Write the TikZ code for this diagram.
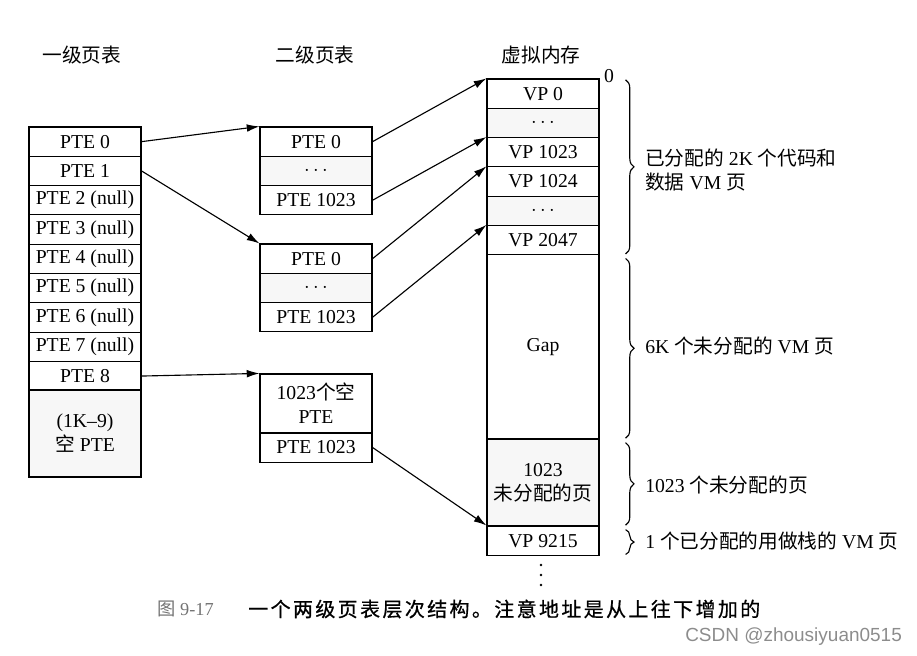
\documentclass[tikz,border=0pt]{standalone}
\usepackage{fontspec}
\setmainfont{Liberation Serif}
\newfontfamily\cjkfont{Noto Sans CJK SC}
\newfontfamily\capfont[LetterSpace=12, FakeBold=0.8]{Noto Sans CJK SC}
\newfontfamily\wmfont{Liberation Sans}
\newcommand{\zh}[1]{{\cjkfont #1}}
\usepackage{tikz}
\usetikzlibrary{arrows.meta}
\usetikzlibrary{decorations.pathreplacing}
\usepackage{xcolor}

\begin{document}
\begin{tikzpicture}[
    x=0.025cm, y=-0.025cm,
    font=\fontsize{14}{17}\selectfont,
    cell/.style={rectangle, draw, line width=0.8pt, minimum width=2.8cm, minimum height=0.7325cm, inner xsep=1pt, inner ysep=1pt, align=center},
    blank/.style={fill=black!3},
    arrow/.style={-{Latex[length=9pt,width=5.5pt]}, line width=0.8pt},
    brace/.style={decorate, decoration={brace, amplitude=6pt}, line width=0.8pt},
    note/.style={anchor=west, inner sep=0pt}
]
    \useasboundingbox (0,0) rectangle (917,656);

    % Headings
    \node (head1) at (82,55) {\zh{一级页表}};
    \node (head2) at (315,55) {\zh{二级页表}};
    \node (head3) at (541,55) {\zh{虚拟内存}};

    % First level page table
    \foreach \t [count=\i from 0] in {PTE 0, PTE 1, PTE 2 (null), PTE 3 (null), PTE 4 (null), PTE 5 (null), PTE 6 (null), PTE 7 (null), PTE 8}
        \node[cell] (first\i) at (85,{141.65+29.3*\i}) {\t};
    \node[cell, blank, minimum height=2.175cm] (first9) at (85,433.5) {(1K--9)\\\zh{空} PTE};

    % Second level page tables
    \node[cell] (seca0) at (316,141.65) {PTE 0};
    \node[cell, blank] (seca1) at (316,170.95) {$\cdots$};
    \node[cell] (seca2) at (316,200.25) {PTE 1023};

    \node[cell] (secb0) at (316,258.65) {PTE 0};
    \node[cell, blank] (secb1) at (316,287.95) {$\cdots$};
    \node[cell] (secb2) at (316,317.25) {PTE 1023};

    \node[cell, minimum height=1.475cm] (secc0) at (316,403.5) {1023\zh{个空}\\PTE};
    \node[cell] (secc1) at (316,447.5) {PTE 1023};

    % Virtual memory
    \node[cell] (vp0) at (543,93.65) {VP 0};
    \node[cell, blank] (vpdotsa) at (543,122.95) {$\cdots$};
    \node[cell] (vp1023) at (543,152.25) {VP 1023};
    \node[cell] (vp1024) at (543,181.55) {VP 1024};
    \node[cell, blank] (vpdotsb) at (543,210.85) {$\cdots$};
    \node[cell] (vp2047) at (543,240.15) {VP 2047};
    \node[cell, minimum height=4.605cm] (gap) at (543,346.9) {Gap};
    \node[cell, blank, minimum height=2.175cm] (unalloc) at (543,482.5) {1023\\\zh{未分配的页}};
    \node[cell] (vp9215) at (543,540.65) {VP 9215};
    \node[inner sep=0pt] (zero) at (609,76) {0};
    \foreach \y in {565,575,585}
        \fill (541,\y) circle (0.9pt);

    % Arrows
    \draw[arrow] (first0.east) -- (seca0.north west);
    \draw[arrow] (first1.east) -- (secb0.north west);
    \draw[arrow] (first8.east) -- (secc0.north west);
    \draw[arrow] (seca0.east) -- (vp0.north west);
    \draw[arrow] (seca2.east) -- (vp1023.north west);
    \draw[arrow] (secb0.east) -- (vp1024.north west);
    \draw[arrow] (secb2.east) -- (vp2047.north west);
    \draw[arrow] (secc1.east) -- (vp9215.north west);

    % Braces and their notes
    \draw[brace] ([xshift=0.65cm,yshift=-1pt]vp0.north east) -- ([xshift=0.65cm,yshift=1pt]vp2047.south east);
    \draw[brace] ([xshift=0.65cm,yshift=-3pt]gap.north east) -- ([xshift=0.65cm,yshift=1pt]gap.south east);
    \draw[brace] ([xshift=0.65cm,yshift=-3pt]unalloc.north east) -- ([xshift=0.65cm,yshift=1pt]unalloc.south east);
    \draw[brace] ([xshift=0.65cm,yshift=-3pt]vp9215.north east) -- ([xshift=0.65cm,yshift=1pt]vp9215.south east);
    \node[note, align=left] (note1) at (645,170) {\zh{已分配的} 2K \zh{个代码和}\\\zh{数据} VM \zh{页}};
    \node[note] (note2) at (645,346) {6K \zh{个未分配的} VM \zh{页}};
    \node[note] (note3) at (645,485) {1023 \zh{个未分配的页}};
    \node[note] (note4) at (645,541) {1 \zh{个已分配的用做栈的} VM \zh{页}};

    % Caption
    \node[note, text=black!55, font=\fontsize{13}{15}\selectfont] (capnum) at (157,609) {\zh{图} 9-17};
    \node[note, font=\fontsize{14.2}{16}\capfont] (captext) at (248,609) {一个两级页表层次结构。注意地址是从上往下增加的};
    \node[note, text=black!45, font=\fontsize{13.5}{15}\wmfont] (mark) at (685,637) {CSDN @zhousiyuan0515};
\end{tikzpicture}
\end{document}
